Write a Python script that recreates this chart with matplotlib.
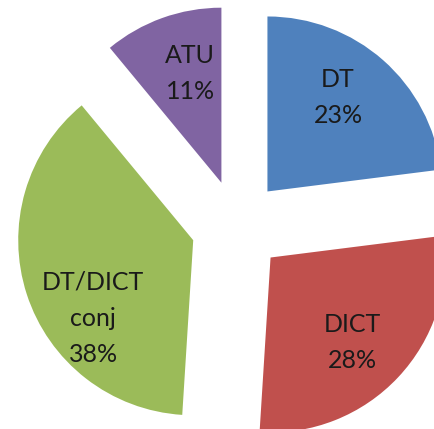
import numpy as np
import matplotlib.pyplot as plt

labels = ['DT', 'DICT', 'DT/DICT\nconj', 'ATU']
shares = [23, 28, 38, 11]
colors = ['#4F81BD', '#C0504D', '#9BBB59', '#8064A2']

# pixel geometry
W, H = 435, 429
cx, cy = 237, 226
R = 175

fig = plt.figure(figsize=(W / 100, H / 100), dpi=100)
ax = fig.add_axes([0, 0, 1, 1])

wedges, _ = ax.pie(shares, colors=colors, startangle=90, counterclock=False,
                   explode=[0.263] * len(shares), wedgeprops=dict(linewidth=0))

# label placement inside each wedge: (distance from apex, angle clockwise from 12 o'clock)
label_pos = [(0.67, 37), (0.675, 136), (0.725, 232), (0.65, 344)]
for w, name, v, (d, a) in zip(wedges, labels, shares, label_pos):
    x0, y0 = w.center
    t = np.deg2rad(a)
    ax.text(x0 + d * np.sin(t), y0 + d * np.cos(t), f"{name}\n{v}%",
            ha='center', va='center', fontsize=18, family='Lato',
            color='#1a1a1a', linespacing=1.7)

ax.set_xlim(-cx / R, (W - cx) / R)
ax.set_ylim(-(H - cy) / R, cy / R)
ax.set_aspect('equal', adjustable='datalim')
ax.axis('off')

fig.savefig('out.png', dpi=100)
